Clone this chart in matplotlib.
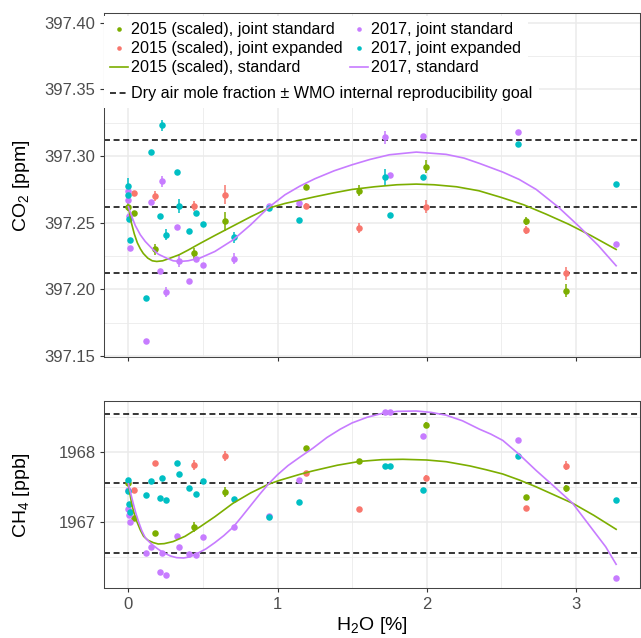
import matplotlib
matplotlib.use('Agg')
import matplotlib.pyplot as plt
from matplotlib.lines import Line2D

plt.rcParams['font.family'] = ['Liberation Sans', 'DejaVu Sans']
plt.rcParams['mathtext.fontset'] = 'custom'
plt.rcParams['mathtext.rm'] = 'Liberation Sans'
plt.rcParams['lines.scale_dashes'] = False

# ---------------- data ----------------
# 2015 (scaled), joint standard  (green)
h2015_std = [0.0, 0.04, 0.176, 0.443, 0.648, 1.19, 1.548, 1.993, 2.666, 2.934]
co2_2015_std = [397.262, 397.257, 397.230, 397.227, 397.251, 397.277, 397.274, 397.292, 397.251, 397.199]
co2_2015_std_err = [0.003, 0.002, 0.004, 0.004, 0.007, 0.002, 0.004, 0.005, 0.003, 0.005]
ch4_2015_std = [1967.557, 1967.066, 1966.843, 1966.929, 1967.433, 1968.066, 1967.876, 1968.394, 1967.366, 1967.49]
ch4_2015_std_err = [0.03, 0.02, 0.03, 0.07, 0.07, 0.02, 0.03, 0.04, 0.03, 0.05]

# 2015 (scaled), joint expanded  (red)
h2015_exp = [0.04, 0.176, 0.443, 0.648, 1.19, 1.548, 1.993, 2.666, 2.934]
co2_2015_exp = [397.272, 397.270, 397.2625, 397.271, 397.2625, 397.246, 397.262, 397.2445, 397.212]
co2_2015_exp_err = [0.002, 0.004, 0.004, 0.007, 0.002, 0.004, 0.005, 0.003, 0.005]
ch4_2015_exp = [1967.457, 1967.851, 1967.814, 1967.947, 1967.700, 1967.186, 1967.637, 1967.204, 1967.809]
ch4_2015_exp_err = [0.02, 0.03, 0.07, 0.07, 0.02, 0.03, 0.04, 0.03, 0.06]

# 2017 (purple = joint standard, cyan = joint expanded)
h2017 = [0.0, 0.0, 0.003, 0.008, 0.116, 0.152, 0.215, 0.224, 0.253, 0.326, 0.336,
         0.405, 0.454, 0.497, 0.708, 0.94, 1.146, 1.722, 1.756, 1.975, 2.612, 3.272]
co2_2017_std = [397.274, 397.267, 397.255, 397.231, 397.161, 397.2655, 397.2135, 397.281,
                397.198, 397.247, 397.2215, 397.2065, 397.2225, 397.218, 397.223, 397.2625,
                397.2645, 397.314, 397.286, 397.315, 397.318, 397.234]
co2_2017_std_err = [0.002, 0.0, 0.0, 0.0, 0.0, 0.0, 0.0, 0.004, 0.004, 0.0, 0.005,
                    0.0, 0.0, 0.0, 0.004, 0.0, 0.0, 0.005, 0.0, 0.0, 0.0, 0.0]
ch4_2017_std = [1967.461, 1967.186, 1967.104, 1967.004, 1966.557, 1966.651, 1966.29, 1966.561,
                1966.247, 1966.8, 1966.647, 1966.543, 1966.533, 1966.79, 1966.937, 1967.094,
                1967.609, 1968.571, 1968.571, 1968.229, 1968.18, 1966.2]
co2_2017_exp = [397.2778, 397.2708, 397.2525, 397.237, 397.1935, 397.303, 397.255, 397.323,
                397.241, 397.288, 397.2625, 397.244, 397.2575, 397.249, 397.239, 397.261,
                397.252, 397.284, 397.256, 397.284, 397.309, 397.279]
co2_2017_exp_err = [0.006, 0.0, 0.0, 0.0, 0.0, 0.0, 0.0, 0.004, 0.004, 0.0, 0.005,
                    0.0, 0.0, 0.0, 0.004, 0.0, 0.0, 0.006, 0.0, 0.0, 0.0, 0.0]
ch4_2017_exp = [1967.604, 1967.45, 1967.257, 1967.15, 1967.386, 1967.594, 1967.347, 1967.628,
                1967.319, 1967.843, 1967.686, 1967.486, 1967.4, 1967.586, 1967.333, 1967.07,
                1967.29, 1967.809, 1967.804, 1967.461, 1967.943, 1967.314]

# fitted curves
h_fit15_co2 = [0.0, 0.02, 0.04, 0.06, 0.08, 0.10, 0.13, 0.16, 0.19, 0.23, 0.28, 0.34, 0.40, 0.48,
               0.58, 0.70, 0.82, 0.94, 1.05, 1.15, 1.25, 1.38, 1.5, 1.65, 1.8, 1.93, 2.05, 2.2,
               2.35, 2.5, 2.65, 2.8, 2.95, 3.1, 3.27]
co2_fit15 = [397.262, 397.250, 397.2415, 397.235, 397.2305, 397.227, 397.2235, 397.2215,
             397.221, 397.2215, 397.2235, 397.226, 397.2295, 397.2345, 397.2405, 397.2475,
             397.2545, 397.261, 397.2645, 397.267, 397.2695, 397.2725, 397.275, 397.277,
             397.2785, 397.279, 397.2785, 397.277, 397.274, 397.269, 397.2635, 397.2565,
             397.249, 397.2405, 397.230]
h_fit17_co2 = [0.0, 0.02, 0.046, 0.08, 0.113, 0.16, 0.20, 0.256, 0.30, 0.345, 0.40, 0.479, 0.58,
               0.70, 0.82, 0.94, 1.05, 1.15, 1.25, 1.38, 1.5, 1.62, 1.75, 1.93, 2.13, 2.25,
               2.354, 2.51, 2.62, 2.734, 2.88, 3.024, 3.15, 3.27]
co2_fit17 = [397.262, 397.2555, 397.248, 397.241, 397.236, 397.2305, 397.2265, 397.2235,
             397.2215, 397.221, 397.2215, 397.2235, 397.2285, 397.237, 397.2485, 397.2615,
             397.271, 397.2775, 397.283, 397.289, 397.2935, 397.2975, 397.301, 397.303,
             397.3013, 397.2985, 397.2945, 397.288, 397.2825, 397.275, 397.262, 397.247,
             397.233, 397.2178]
h_fit15_ch4 = [0.0, 0.012, 0.023, 0.04, 0.057, 0.08, 0.102, 0.13, 0.166, 0.2, 0.24, 0.3, 0.38,
               0.48, 0.58, 0.70, 0.82, 0.94, 1.015, 1.149, 1.238, 1.4, 1.55, 1.7, 1.84, 2.0,
               2.13, 2.29, 2.4, 2.51, 2.62, 2.73, 2.85, 2.98, 3.12, 3.27]
ch4_fit15 = [1967.55, 1967.39, 1967.25, 1967.12, 1967.01, 1966.89, 1966.80, 1966.745, 1966.71,
             1966.69, 1966.695, 1966.725, 1966.80, 1966.935, 1967.08, 1967.27, 1967.42,
             1967.545, 1967.60, 1967.685, 1967.735, 1967.815, 1967.87, 1967.895, 1967.90,
             1967.89, 1967.866, 1967.805, 1967.75, 1967.69, 1967.605, 1967.51, 1967.395,
             1967.27, 1967.10, 1966.90]
h_fit17_ch4 = [0.0, 0.017, 0.035, 0.05, 0.068, 0.09, 0.113, 0.14, 0.166, 0.2, 0.233, 0.28,
               0.323, 0.37, 0.41, 0.457, 0.52, 0.58, 0.64, 0.702, 0.76, 0.82, 0.88, 0.94, 1.0,
               1.07, 1.149, 1.238, 1.33, 1.42, 1.5, 1.6, 1.7, 1.8, 1.93, 2.03, 2.131, 2.24,
               2.354, 2.43, 2.51, 2.62, 2.734, 2.85, 2.979, 3.1, 3.2, 3.27]
ch4_fit17 = [1967.55, 1967.40, 1967.25, 1967.13, 1967.01, 1966.88, 1966.78, 1966.72, 1966.67,
             1966.615, 1966.57, 1966.52, 1966.495, 1966.49, 1966.505, 1966.55, 1966.62,
             1966.71, 1966.81, 1966.93, 1967.08, 1967.24, 1967.40, 1967.55, 1967.68, 1967.81,
             1967.93, 1968.06, 1968.21, 1968.33, 1968.42, 1968.50, 1968.555, 1968.585,
             1968.59, 1968.57, 1968.53, 1968.45, 1968.33, 1968.26, 1968.17, 1967.97, 1967.74,
             1967.52, 1967.27, 1966.93, 1966.65, 1966.40]

# reference levels: dry air mole fraction and WMO goal
co2_ref, co2_goal = 397.262, 0.05
ch4_ref, ch4_goal = 1967.555, 0.99

xticks = [0, 1, 2, 3]
co2_ticks = [397.15, 397.20, 397.25, 397.30, 397.35, 397.40]
ch4_ticks = [1967, 1968]

labels = ['2015 (scaled), joint standard', '2015 (scaled), joint expanded',
          '2015 (scaled), standard', '2017, joint standard', '2017, joint expanded',
          '2017, standard', 'Dry air mole fraction \u00b1 WMO internal reproducibility goal']

GREEN, RED, PURPLE, CYAN = '#7CAE00', '#F8766D', '#C77CFF', '#00BFC4'

# ---------------- figure ----------------
W, H = 641, 638
fig = plt.figure(figsize=(W / 100, H / 100), dpi=100)


def rect(l, t, r, b):
    return [l / W, 1 - b / H, (r - l) / W, (b - t) / H]


ax1 = fig.add_axes(rect(104, 12.7, 640, 357.5))
ax2 = fig.add_axes(rect(104, 401, 640, 588.3))

DASH = (0, (4.3, 2.6))


def style(ax, yt, yminor, ylim, showx):
    ax.set_xlim(-0.1635, 3.43)
    ax.set_ylim(*ylim)
    ax.set_xticks(xticks)
    ax.set_xticks([0.5, 1.5, 2.5], minor=True)
    ax.set_yticks(yt)
    ax.set_yticks(yminor, minor=True)
    ax.grid(True, which='major', color='#EBEBEB', lw=1.1, zorder=0)
    ax.grid(True, which='minor', color='#EBEBEB', lw=0.6, zorder=0)
    ax.set_axisbelow(True)
    for s in ax.spines.values():
        s.set_color('#444444')
        s.set_linewidth(0.75)
    ax.tick_params(which='major', length=3.0, width=0.8, color='#333333',
                   labelcolor='#4D4D4D', labelsize=12, pad=3)
    ax.tick_params(which='minor', length=0)
    if not showx:
        ax.tick_params(axis='x', labelbottom=False)


style(ax1, co2_ticks, [397.175, 397.225, 397.275, 397.325, 397.375], (397.149, 397.4075), False)
ax1.set_yticklabels(['%.2f' % t for t in co2_ticks])
style(ax2, ch4_ticks, [1966.5, 1967.5, 1968.5], (1966.057, 1968.733), True)
ax2.set_yticklabels(['%d' % t for t in ch4_ticks])

for ax, ref, goal in [(ax1, co2_ref, co2_goal), (ax2, ch4_ref, ch4_goal)]:
    for v in (ref - goal, ref, ref + goal):
        ax.axhline(v, color='black', lw=1.1, ls=DASH, zorder=2)

pt = dict(fmt='o', ms=4.7, mew=0, elinewidth=1.1, capsize=0, zorder=3)
ax1.errorbar(h2015_std, co2_2015_std, yerr=co2_2015_std_err, color=GREEN, **pt)
ax1.errorbar(h2015_exp, co2_2015_exp, yerr=co2_2015_exp_err, color=RED, **pt)
ax1.errorbar(h2017, co2_2017_std, yerr=co2_2017_std_err, color=PURPLE, **pt)
ax1.errorbar(h2017, co2_2017_exp, yerr=co2_2017_exp_err, color=CYAN, **pt)
ax1.plot(h_fit15_co2, co2_fit15, color=GREEN, lw=1.2, zorder=4)
ax1.plot(h_fit17_co2, co2_fit17, color=PURPLE, lw=1.2, zorder=4)

ax2.errorbar(h2015_std, ch4_2015_std, yerr=ch4_2015_std_err, color=GREEN, **pt)
ax2.errorbar(h2015_exp, ch4_2015_exp, yerr=ch4_2015_exp_err, color=RED, **pt)
ax2.errorbar(h2017, ch4_2017_std, color=PURPLE, **pt)
ax2.errorbar(h2017, ch4_2017_exp, color=CYAN, **pt)
ax2.plot(h_fit15_ch4, ch4_fit15, color=GREEN, lw=1.2, zorder=4)
ax2.plot(h_fit17_ch4, ch4_fit17, color=PURPLE, lw=1.2, zorder=4)

# legend
mk = dict(marker='o', ls='none', ms=3.3, mew=0)
handles = [Line2D([], [], color=GREEN, **mk), Line2D([], [], color=RED, **mk),
           Line2D([], [], color=GREEN, lw=1.2), Line2D([], [], color=PURPLE, **mk),
           Line2D([], [], color=CYAN, **mk), Line2D([], [], color=PURPLE, lw=1.2)]
lkw = dict(loc='upper left', frameon=True, fancybox=False, framealpha=1,
           facecolor='white', edgecolor='none', fontsize=11.6, handlelength=1.1,
           handletextpad=0.2, borderpad=0.4, borderaxespad=0)
leg1 = ax1.legend(handles, labels[:6], ncol=2, columnspacing=0.45, labelspacing=0.245,
                  bbox_to_anchor=(0.0, 0.991), **lkw)
leg1.set_zorder(10)
ax1.add_artist(leg1)
leg2 = ax1.legend([Line2D([], [], color='black', lw=1.1, ls=DASH)], labels[6:],
                  bbox_to_anchor=(0.0, 0.8054), **lkw)
leg2.set_zorder(10)

# axis titles
fig.text(22 / W, 1 - 186 / H, r'CO$_\mathregular{2}$ [ppm]', rotation=90, ha='center',
         va='center', fontsize=14, color='black')
fig.text(22 / W, 1 - 495 / H, r'CH$_\mathregular{4}$ [ppb]', rotation=90, ha='center',
         va='center', fontsize=14, color='black')
fig.text(372 / W, 1 - 626 / H, r'H$_\mathregular{2}$O [%]', ha='center', va='center',
         fontsize=14, color='black')

fig.savefig('out.png', dpi=100)
